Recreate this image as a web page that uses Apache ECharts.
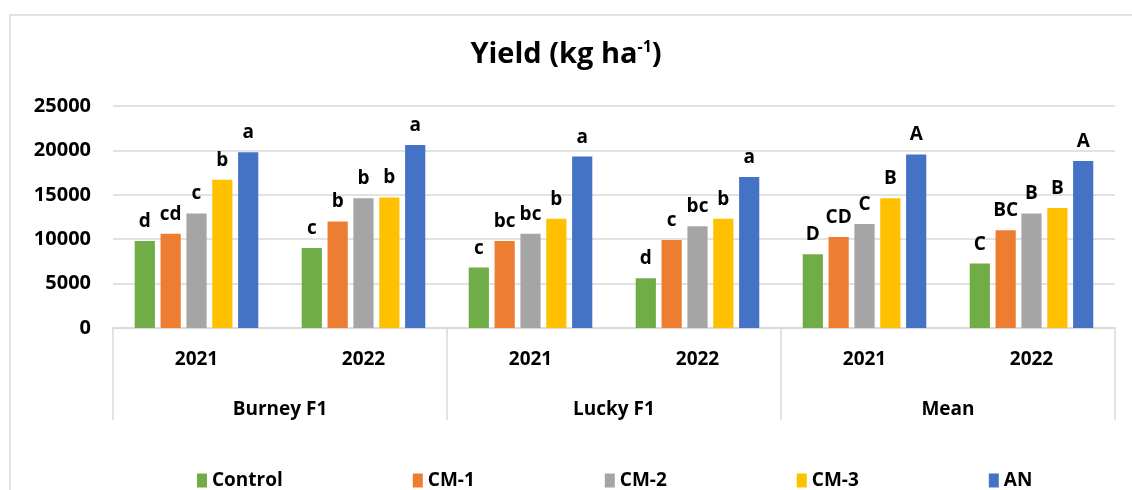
<!DOCTYPE html>
<html>
<head>
<meta charset="utf-8">
<script src="https://cdn.jsdelivr.net/npm/echarts@6/dist/echarts.min.js"></script>
<style>
  html, body { margin: 0; padding: 0; background: #fff; }
  #main { width: 1132px; height: 490px; }
</style>
</head>
<body>
<div id="main"></div>
<script>
// categories
var years = ['2021', '2022', '2021', '2022', '2021', '2022'];
var groups = ['Burney F1', 'Lucky F1', 'Mean'];
var seriesNames = ['Control', 'CM-1', 'CM-2', 'CM-3', 'AN'];
var yTicks = [0, 5000, 10000, 15000, 20000, 25000];

// yield values (kg ha-1)
var controlVals = [9800, 9000, 6800, 5600, 8300, 7250];
var cm1Vals     = [10600, 12000, 9800, 9900, 10250, 11000];
var cm2Vals     = [12900, 14600, 10600, 11450, 11700, 12900];
var cm3Vals     = [16700, 14700, 12300, 12300, 14600, 13500];
var anVals      = [19800, 20600, 19300, 17000, 19550, 18800];

// letters above the bars
var controlLbl = ['d', 'c', 'c', 'd', 'D', 'C'];
var cm1Lbl     = ['cd', 'b', 'bc', 'c', 'CD', 'BC'];
var cm2Lbl     = ['c', 'b', 'bc', 'bc', 'C', 'B'];
var cm3Lbl     = ['b', 'b', 'b', 'b', 'B', 'B'];
var anLbl      = ['a', 'a', 'a', 'a', 'A', 'A'];

var colors = ['#70AD47', '#ED7D31', '#A5A5A5', '#FFC000', '#4472C4'];
var font = 'Open Sans';

var allVals = [controlVals, cm1Vals, cm2Vals, cm3Vals, anVals];
var allLbl = [controlLbl, cm1Lbl, cm2Lbl, cm3Lbl, anLbl];

var series = [];
for (var i = 0; i < seriesNames.length; i++) {
  var lbls = allLbl[i];
  series.push({
    name: seriesNames[i],
    type: 'bar',
    xAxisIndex: 0,
    barGap: '28%',
    barCategoryGap: '26%',
    itemStyle: { color: colors[i] },
    label: {
      show: true,
      position: 'top',
      distance: 10,
      color: '#000',
      fontFamily: font,
      fontWeight: 'bold',
      fontSize: 19,
      formatter: (function (l) { return function (p) { return l[p.dataIndex]; }; })(lbls)
    },
    data: allVals[i]
  });
}

var myChart = echarts.init(document.getElementById('main'));
myChart.setOption({
  animation: false,
  backgroundColor: '#fff',
  title: {
    text: '{a|Yield (kg ha}{s|-1}{a|)}',
    left: 'center',
    top: 34,
    textStyle: {
      rich: {
        a: { fontFamily: font, fontWeight: 'bold', fontSize: 29, color: '#000' },
        s: { fontFamily: font, fontWeight: 'bold', fontSize: 16, color: '#000', padding: [0, 0, 15, 0] }
      }
    }
  },
  graphic: [{
    type: 'rect',
    shape: { x: 10, y: 15, width: 1130, height: 490 },
    style: { fill: 'none', stroke: '#d9d9d9', lineWidth: 1.5 },
    silent: true
  }],
  legend: {
    data: seriesNames,
    top: 466,
    left: 192,
    itemWidth: 10,
    itemHeight: 14,
    itemGap: 130,
    icon: 'rect',
    textStyle: { fontFamily: font, fontWeight: 'bold', fontSize: 19, color: '#000' }
  },
  grid: { left: 113, right: 17, top: 106, bottom: 162 },
  xAxis: [{
    type: 'category',
    data: years,
    axisLine: { lineStyle: { color: '#d9d9d9', width: 1.5 } },
    axisTick: { show: false },
    axisLabel: { margin: 22, fontFamily: font, fontWeight: 'bold', fontSize: 19, color: '#000' }
  }, {
    type: 'category',
    data: groups,
    position: 'bottom',
    axisLine: { show: false },
    axisTick: { show: true, length: 92, lineStyle: { color: '#d9d9d9', width: 1.5 } },
    axisLabel: { margin: 72, fontFamily: font, fontWeight: 'bold', fontSize: 19, color: '#000' }
  }],
  yAxis: {
    type: 'value',
    min: yTicks[0],
    max: yTicks[yTicks.length - 1],
    interval: yTicks[1] - yTicks[0],
    axisLine: { show: false },
    axisTick: { show: false },
    splitLine: { lineStyle: { color: '#d9d9d9', width: 1.5 } },
    axisLabel: {
      margin: 22, fontFamily: font, fontWeight: 'bold', fontSize: 20, color: '#000',
      formatter: function (v) { return String(v); }
    }
  },
  series: series
});
</script>
</body>
</html>
